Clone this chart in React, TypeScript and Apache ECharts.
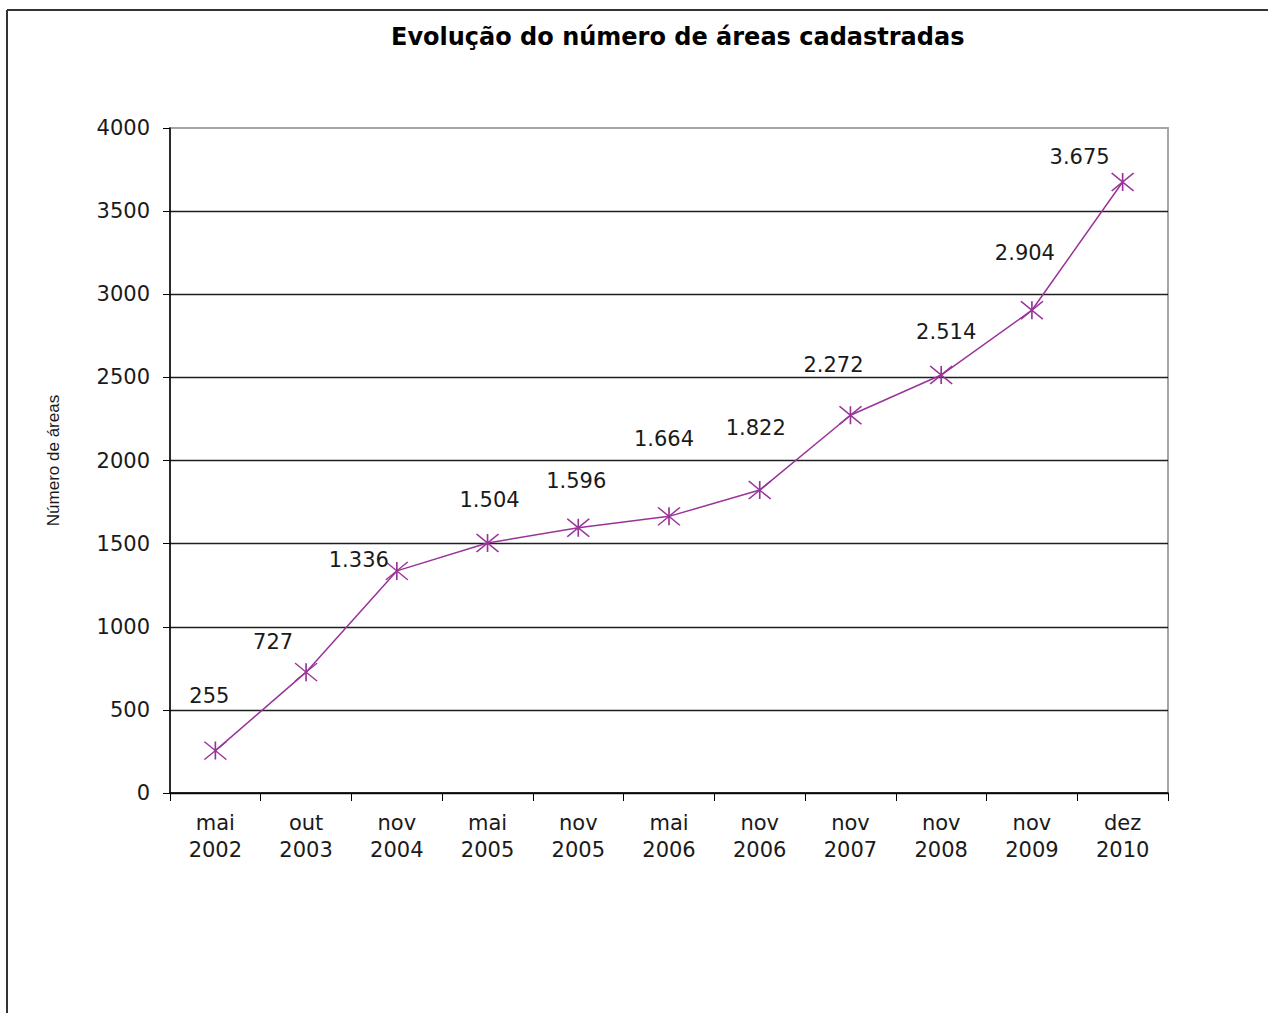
import React, { useEffect, useRef } from "react";
import * as echarts from "echarts";

const categories = [
  "mai\n2002", "out\n2003", "nov\n2004", "mai\n2005", "nov\n2005", "mai\n2006",
  "nov\n2006", "nov\n2007", "nov\n2008", "nov\n2009", "dez\n2010",
];
const areas = [255, 727, 1336, 1504, 1596, 1664, 1822, 2272, 2514, 2904, 3675];
const labelOffsets: [number, number][] = [
  [-6, -55], [-33, -30], [-38, -11], [2, -43], [-2, -47], [-5, -77],
  [-4, -62], [-17, -50], [5, -43], [-7, -57], [-43, -25],
];
const titleText = "Evolução do número de áreas cadastradas";
const yAxisName = "Número de áreas";

const fmt = (v: number) => String(v).replace(/\B(?=(\d{3})+(?!\d))/g, ".");

export default function App() {
  const ref = useRef<HTMLDivElement>(null);
  useEffect(() => {
    if (!ref.current) return;
    const chart = echarts.init(ref.current, undefined, { renderer: "svg" });
    const purple = "#993399";
    const textColor = "#1a1a1a";
    chart.setOption({
      animation: false,
      backgroundColor: "#ffffff",
      title: {
        text: titleText,
        left: 386,
        top: 20,
        textStyle: { fontFamily: "DejaVu Sans", fontWeight: "bold", fontSize: 24, color: "#000" },
      },
      graphic: [
        { type: "line", shape: { x1: 7, y1: 10, x2: 1268, y2: 10 }, style: { stroke: "#333", lineWidth: 2 } },
        { type: "line", shape: { x1: 7, y1: 10, x2: 7, y2: 1013 }, style: { stroke: "#333", lineWidth: 2 } },
      ],
      grid: {
        left: 170, right: 100, top: 128, bottom: 220,
        show: true, borderColor: "#a6a6a6", borderWidth: 2, backgroundColor: "transparent",
      },
      xAxis: {
        type: "category",
        data: categories,
        boundaryGap: true,
        axisLine: { lineStyle: { color: "#000", width: 1.5 } },
        axisTick: { show: true, length: 8, lineStyle: { color: "#000" } },
        axisLabel: {
          margin: 16, fontFamily: "DejaVu Sans", fontSize: 21, lineHeight: 27, color: textColor,
          interval: 0,
        },
        splitLine: { show: false },
      },
      yAxis: {
        type: "value",
        min: 0, max: 4000, interval: 500,
        name: yAxisName,
        nameLocation: "middle",
        nameGap: 108,
        nameRotate: 90,
        nameTextStyle: { fontFamily: "Liberation Sans", fontSize: 17, color: textColor },
        axisLine: { show: true, lineStyle: { color: "#000", width: 1.5 } },
        axisTick: { show: true, length: 7, lineStyle: { color: "#000" } },
        axisLabel: {
          margin: 20, fontFamily: "DejaVu Sans", fontSize: 21, color: textColor,
          formatter: (v: number) => String(v),
        },
        splitLine: { show: true, showMaxLine: false, lineStyle: { color: "#1f1f1f", width: 1.3 } },
      },
      series: [
        {
          type: "line",
          data: areas.map((v, i) => ({
            value: v,
            label: { offset: labelOffsets[i] },
          })),
          symbol: "path://M0,-9L0,9M-11,-9L11,9M-11,9L11,-9",
          symbolSize: [22, 18],
          lineStyle: { color: purple, width: 1.5 },
          itemStyle: { color: purple, borderColor: purple, borderWidth: 1.5 },
          label: {
            show: true,
            position: "inside",
            fontFamily: "DejaVu Sans",
            fontSize: 21,
            color: textColor,
            formatter: (p: any) => fmt(p.value),
          },
        },
      ],
    });
    return () => chart.dispose();
  }, []);
  return (
    <div
      ref={ref}
      style={{ position: "fixed", left: 0, top: 0, width: 1268, height: 1013, background: "#fff" }}
    />
  );
}
